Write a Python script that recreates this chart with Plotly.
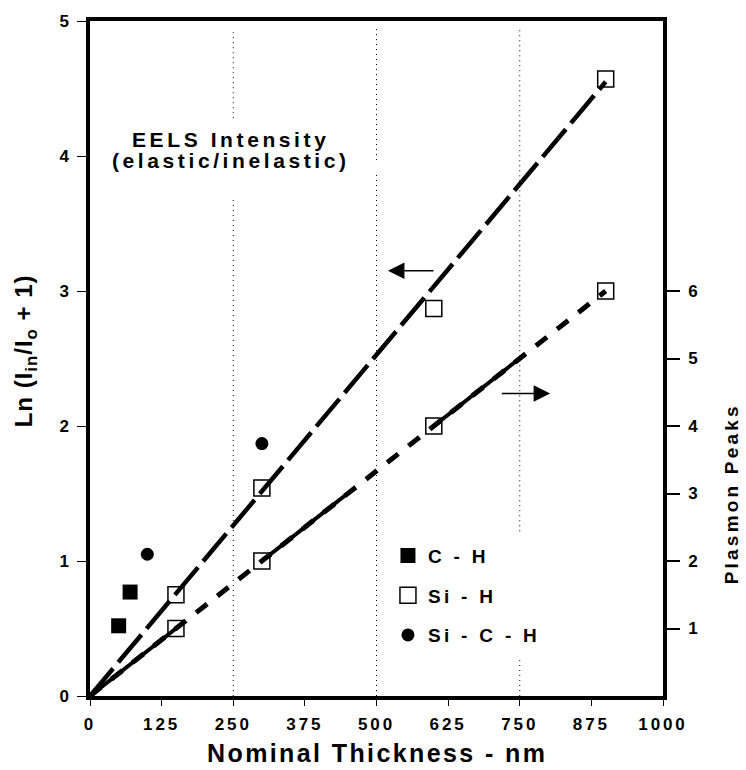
import plotly.graph_objects as go

# ---------------- data ----------------
thickness_ticks = [0, 125, 250, 375, 500, 625, 750, 875, 1000]
left_ticks = [0, 1, 2, 3, 4, 5]
right_ticks = [1, 2, 3, 4, 5, 6]

# Si-H EELS intensity (left axis)
sih_x = [150, 300, 600, 900]
sih_y = [0.75, 1.54, 2.87, 4.57]
# linear fit through origin (left axis)
fit_x = [0, 900]
fit_y = [0, 4.55]

# C-H EELS intensity (left axis)
ch_x = [50, 70]
ch_y = [0.52, 0.77]

# Si-C-H EELS intensity (left axis)
sich_x = [100, 300]
sich_y = [1.05, 1.87]

# Plasmon peaks (right axis)
plasmon_x = [150, 300, 600, 900]
plasmon_y = [1, 2, 4, 6]
plasmon_line_x = [0, 150, 300, 600, 900]
plasmon_line_y = [0, 1, 2, 4, 6]
# solid portions of the plasmon line (start, end)
solid_x = [0, 150, None, 300, 454, None, 600, 745]
solid_y = [0, 1, None, 2, 3.03, None, 4, 4.97]

FONT = "Liberation Sans, Arial, sans-serif"


def spaced(txt, px):
    return f'<span style="letter-spacing:{px}px">{txt}</span>'


fig = go.Figure()

# plasmon dashed line (right axis)
fig.add_trace(go.Scatter(x=plasmon_line_x, y=plasmon_line_y, yaxis="y2", mode="lines",
                         line=dict(color="black", width=5, dash="14px,13px"),
                         showlegend=False, hoverinfo="skip"))
fig.add_trace(go.Scatter(x=solid_x, y=solid_y, yaxis="y2", mode="lines",
                         line=dict(color="black", width=4),
                         showlegend=False, hoverinfo="skip", connectgaps=False))
# Si-H fit (long dash)
fig.add_trace(go.Scatter(x=fit_x, y=fit_y, mode="lines",
                         line=dict(color="black", width=4.5, dash="36px,8px"),
                         showlegend=False, hoverinfo="skip"))

# markers
fig.add_trace(go.Scatter(x=ch_x, y=ch_y, mode="markers", name=spaced("C - H", 3.3),
                         legendgroup="a",
                         marker=dict(symbol="square", size=15, color="black")))
fig.add_trace(go.Scatter(x=sih_x, y=sih_y, mode="markers", name=spaced("Si - H", 3.3),
                         legendgroup="b",
                         marker=dict(symbol="square-open", size=16, color="black",
                                     line=dict(width=1.5, color="black"))))
fig.add_trace(go.Scatter(x=sich_x, y=sich_y, mode="markers", name=spaced("Si - C - H", 3.3),
                         legendgroup="c",
                         marker=dict(symbol="circle", size=13, color="black")))
fig.add_trace(go.Scatter(x=plasmon_x, y=plasmon_y, yaxis="y2", mode="markers",
                         showlegend=False,
                         marker=dict(symbol="square-open", size=16, color="black",
                                     line=dict(width=1.5, color="black"))))

# dotted vertical guide lines (with gaps as in the original)
grid_segments = [(250, 0, 3.70), (250, 4.28, 4.94),
                 (500, 0, 3.86), (500, 3.97, 4.94),
                 (750, 0, 0.28), (750, 1.22, 4.94)]
for gx, g0, g1 in grid_segments:
    fig.add_shape(type="line", x0=gx, x1=gx, y0=g0, y1=g1, xref="x", yref="y",
                  line=dict(color="black", width=1, dash="1px,4px"), layer="below")

tickfont = dict(size=17, family=FONT, weight="bold")

fig.update_layout(
    width=746, height=770,
    margin=dict(l=90, r=83, t=15, b=74),
    paper_bgcolor="white", plot_bgcolor="white",
    font=dict(family=FONT, color="black"),
    showlegend=True,
    legend=dict(x=0.52, y=0.236, xanchor="left", yanchor="top",
                bgcolor="rgba(0,0,0,0)", tracegroupgap=12,
                font=dict(size=19, family=FONT, color="black", weight="bold"),
                itemwidth=30),
    xaxis=dict(range=[0, 1000], tickvals=thickness_ticks,
               ticktext=[spaced(f"<b>{t}</b>", 2.9) for t in thickness_ticks],
               showgrid=False, zeroline=False,
               showline=True, linewidth=3.5, linecolor="black", mirror=True,
               ticks="outside", ticklen=6, tickwidth=1, tickcolor="black",
               tickfont=tickfont, ticklabelstandoff=4),
    yaxis=dict(range=[0, 5], tickvals=left_ticks,
               ticktext=[f"<b>{t}</b>" for t in left_ticks],
               showgrid=False, zeroline=False,
               showline=True, linewidth=3.5, linecolor="black",
               ticks="outside", ticklen=9, tickwidth=1, tickcolor="black",
               tickfont=tickfont, ticklabelstandoff=5),
    yaxis2=dict(range=[0, 10], tickvals=right_ticks,
                ticktext=[f"<b>{t}</b>" for t in right_ticks],
                overlaying="y", side="right",
                showgrid=False, zeroline=False,
                showline=True, linewidth=3.5, linecolor="black",
                ticks="outside", ticklen=13, tickwidth=2, tickcolor="black",
                tickfont=tickfont, ticklabelstandoff=5),
)

annotations = [
    dict(text=spaced("EELS Intensity", 3.6), x=246, y=4.12, xref="x", yref="y",
         showarrow=False, font=dict(size=21, family=FONT, weight="bold"), yanchor="middle"),
    dict(text=spaced("(elastic/inelastic)", 3.6), x=246, y=3.965, xref="x", yref="y",
         showarrow=False, font=dict(size=21, family=FONT, weight="bold"), yanchor="middle"),
    dict(text=spaced("<b>Nominal Thickness - nm</b>", 2.4), x=0.5, y=-0.084,
         xref="paper", yref="paper",
         xanchor="center", yanchor="middle", showarrow=False,
         font=dict(size=25, family=FONT)),
    dict(text=spaced("<b>Ln (I<sub>in</sub>/I<sub>o</sub> + 1)</b>", 1), x=-0.113, y=0.511,
         xref="paper", yref="paper",
         xanchor="center", yanchor="middle", textangle=-90, showarrow=False,
         font=dict(size=24, family=FONT)),
    dict(text=spaced("<b>Plasmon Peaks</b>", 3.2), x=1.12, y=0.300, xref="paper", yref="paper",
         xanchor="center", yanchor="middle", textangle=-90, showarrow=False,
         font=dict(size=19, family=FONT)),
    dict(x=520, y=3.15, ax=602, ay=3.15, xref="x", yref="y", axref="x", ayref="y",
         text="", showarrow=True, arrowhead=2, arrowsize=2.2, arrowwidth=1.5, arrowcolor="black"),
    dict(x=803, y=2.24, ax=716, ay=2.24, xref="x", yref="y", axref="x", ayref="y",
         text="", showarrow=True, arrowhead=2, arrowsize=2.2, arrowwidth=1.5, arrowcolor="black"),
]
fig.update_layout(annotations=annotations)

fig.write_html("out.html")
